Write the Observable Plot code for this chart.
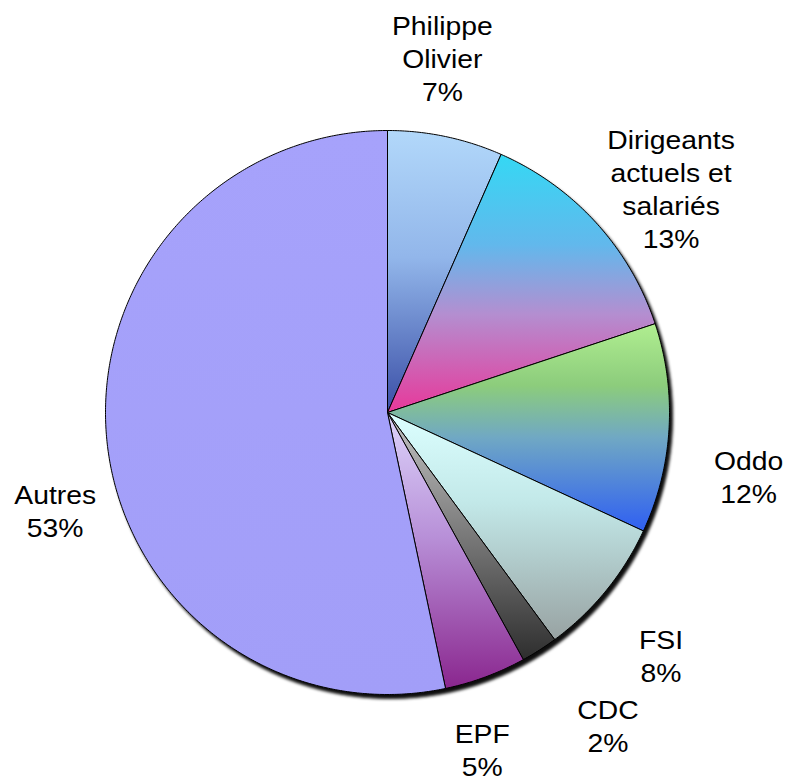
<!DOCTYPE html>
<html>
<head>
<meta charset="utf-8">
<script src="https://cdn.jsdelivr.net/npm/d3@7"></script>
<script src="https://cdn.jsdelivr.net/npm/@observablehq/plot@0.6"></script>
<style>
  html, body { margin: 0; padding: 0; background: #ffffff; }
  #chart { width: 789px; height: 782px; }
</style>
</head>
<body>
<div id="chart"></div>
<script>
// ---- data ----
const categories = ["Philippe\nOlivier", "Dirigeants\nactuels et\nsalariés", "Oddo", "FSI", "CDC", "EPF", "Autres"];
const shares = [6.6, 13.3, 12.0, 8.0, 2.1, 4.7, 53.3];

// ---- styles / layout (not data) ----
const gradientStops = [
  [[0, "#b2d8fa"], [0.45, "#92b6ea"], [1, "#3a4ea6"]],
  [[0, "#34d8f4"], [0.35, "#62b8ec"], [0.62, "#b48ed0"], [1, "#e8389a"]],
  [[0, "#b0ee90"], [0.3, "#8ccc7c"], [0.55, "#70a8c4"], [1, "#2f5ff2"]],
  [[0, "#dcffff"], [0.4, "#c2e8e8"], [1, "#98a2a2"]],
  [[0, "#c4c4c4"], [1, "#2e2e2e"]],
  [[0, "#ddd5fb"], [0.45, "#b890d8"], [1, "#8a268e"]],
  [[0, "#a6a2fb"], [1, "#a29ef8"]]
];
const labelAngleShift = [-3.1, 3.9, 6.7, 2.3, -2.6, 4.6, -10.4]; // degrees from slice middle
const labelRadius = [1.275, 1.283, 1.30, 1.296, 1.357, 1.238, 1.228]; // in pie radii

const W = 789, H = 782, CX = 387, CY = 412, R = 282;

// ---- build slice polygons from the shares ----
const total = d3.sum(shares);
const arcs = d3.pie().sort(null).value(d => d)(shares);
const rad = a => a * Math.PI / 180;
const polyPts = [];
const labels = [];
arcs.forEach((a, i) => {
  const name = categories[i];
  const fill = `url(#grad${i})`;
  polyPts.push({slice: name, fill, x: 0, y: 0});
  const n = Math.max(2, Math.ceil((a.endAngle - a.startAngle) / rad(0.5)));
  for (let k = 0; k <= n; k++) {
    const t = a.startAngle + (a.endAngle - a.startAngle) * k / n;
    polyPts.push({slice: name, fill, x: Math.sin(t), y: Math.cos(t)});
  }
  polyPts.push({slice: name, fill, x: 0, y: 0});
  const mid = (a.startAngle + a.endAngle) / 2 + rad(labelAngleShift[i]);
  labels.push({
    x: labelRadius[i] * Math.sin(mid),
    y: labelRadius[i] * Math.cos(mid),
    text: name + "\n" + Math.round(shares[i] / total * 100) + "%"
  });
});

const chart = Plot.plot({
  width: W,
  height: H,
  margin: 0,
  x: {domain: [-CX / R, (W - CX) / R], range: [0, W], axis: null},
  y: {domain: [-(H - CY) / R, CY / R], range: [H, 0], axis: null},
  marks: [
    Plot.line(polyPts, {
      x: "x", y: "y", z: "slice",
      fill: "fill",
      stroke: "#000000",
      strokeWidth: 1,
      strokeLinejoin: "round",
      curve: "linear"
    }),
    Plot.text(labels, {
      x: "x", y: "y", text: "text",
      fontSize: 26,
      lineHeight: 1.27,
      fontFamily: "'Liberation Sans', Arial, sans-serif",
      fill: "#000000",
      textAnchor: "middle",
      lineAnchor: "middle"
    })
  ]
});

// gradient definitions
const ns = "http://www.w3.org/2000/svg";
const defs = document.createElementNS(ns, "defs");
gradientStops.forEach((stops, i) => {
  const g = document.createElementNS(ns, "linearGradient");
  g.setAttribute("id", "grad" + i);
  g.setAttribute("x1", "0"); g.setAttribute("y1", "0");
  g.setAttribute("x2", "0"); g.setAttribute("y2", "1");
  stops.forEach(([o, c]) => {
    const s = document.createElementNS(ns, "stop");
    s.setAttribute("offset", o);
    s.setAttribute("stop-color", c);
    g.appendChild(s);
  });
  defs.appendChild(g);
});
chart.insertBefore(defs, chart.firstChild);
chart.style.background = "#ffffff";
const pieGroup = chart.querySelector('g[aria-label="line"]');
if (pieGroup) pieGroup.style.filter = "drop-shadow(3px 4px 1.5px rgba(0,0,0,0.95))";
// the reference's labels are slightly wider than regular Arial
chart.querySelectorAll('g[aria-label="text"] text').forEach(t => {
  const tr = t.getAttribute("transform");
  if (tr) t.setAttribute("transform", tr + " scale(1.09,1)");
});

document.getElementById("chart").appendChild(chart);
</script>
</body>
</html>
